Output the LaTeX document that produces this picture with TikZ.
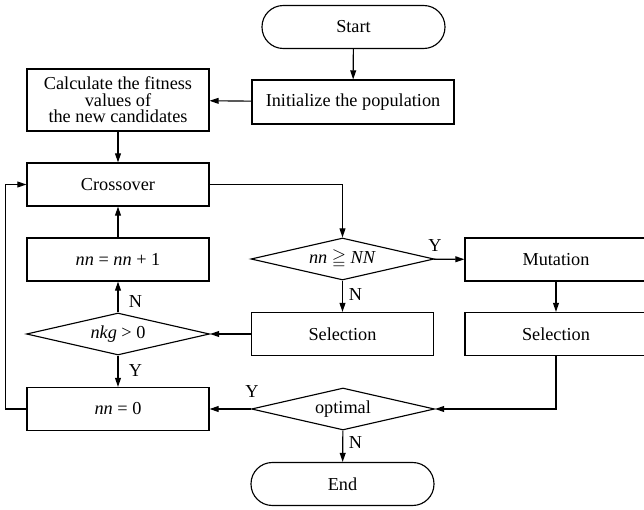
\documentclass[tikz,border=0pt]{standalone}
\usepackage{fontspec}
\usepackage{amssymb}
\setmainfont{Liberation Serif}
\usetikzlibrary{shapes.geometric,arrows.meta}

\tikzset{
  proc/.style={draw, line width=0.85pt, rectangle, minimum width=136.5pt, minimum height=32.25pt, inner sep=0.75pt, align=center},
  term/.style={draw, line width=0.85pt, rectangle, rounded corners=16pt, minimum width=137.25pt, minimum height=32.25pt},
  decide/.style={draw, line width=0.85pt, diamond, aspect=4.35, minimum width=137.25pt, minimum height=31.5pt, inner sep=0pt},
  flow/.style={line width=0.85pt, -{Triangle[length=6.8pt,width=4.4pt]}},
  yn/.style={inner sep=0.75pt}
}

\begin{document}
\begin{tikzpicture}[x=0.75pt,y=0.75pt,yscale=-1,xscale=1,font=\fontsize{13.7pt}{12.3pt}\selectfont]
\useasboundingbox (0,0) rectangle (644,510);
\clip (0,0) rectangle (644,510);

%Shape: Terminals
\node[term] (start) at (353.5,27) {Start};
\node[term] (stop) at (342.5,484) {End};
%Shape: Rectangles
\node[proc, minimum width=151.5pt, minimum height=33pt] (init) at (353,102) {Initialize the population};
\node[proc, minimum height=46.5pt] (calc) at (118,100) {Calculate the fitness\\values of\\the new candidates};
\node[proc] (cross) at (118,184.5) {Crossover};
\node[proc] (inc) at (118,259.5) {\textit{nn} = \textit{nn} + 1};
\node[proc] (mut) at (556,259.5) {Mutation};
\node[proc] (sel) at (342.5,334) {Selection};
\node[proc] (selM) at (556,334) {Selection};
\node[proc] (reset) at (118,409) {\textit{nn} = 0};
%Shape: Diamonds
\node[decide] (dNN) at (342.5,259) {\textit{nn} $\geqq$ \textit{NN}};
\node[decide] (dkg) at (118,334) {\textit{nkg} > 0};
\node[decide] (dopt) at (343,409) {optimal};

%Straight Lines
\draw[flow] (start) -- (init);
\draw[flow] (init) -- (calc);
\draw[flow] (calc) -- (cross);
\draw[flow] (cross.east) -| (dNN.north);
\draw[flow] (dNN) -- (mut);
\draw[flow] (dNN) -- (sel);
\draw[flow] (mut) -- (selM);
\draw[flow] (sel) -- (dkg);
\draw[flow] (dkg) -- (inc);
\draw[flow] (inc) -- (cross);
\draw[flow] (dkg) -- (reset);
\draw[flow] (selM.south) |- (dopt.east);
\draw[flow] (dopt) -- (reset);
\draw[flow] (dopt) -- (stop);
\coordinate (loopL) at (5.7,409);
\draw[flow] (reset.west) -- (loopL) |- (cross.west);

% Text Node
\node[yn] (lblY1) at (435,246) {Y};
\node[yn] (lblN1) at (355.5,295) {N};
\node[yn] (lblN2) at (135.5,302) {N};
\node[yn] (lblY2) at (135.5,371) {Y};
\node[yn] (lblY3) at (252,392) {Y};
\node[yn] (lblN3) at (355.5,443) {N};

\end{tikzpicture}
\end{document}
